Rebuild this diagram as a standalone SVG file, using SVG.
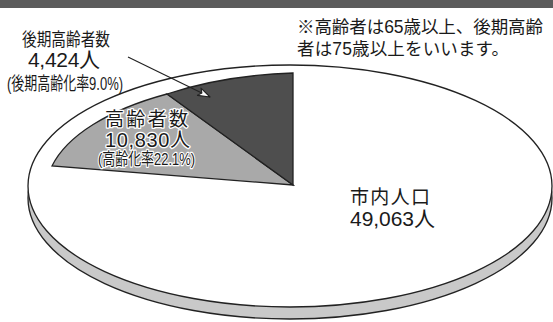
<svg xmlns="http://www.w3.org/2000/svg" width="553" height="322" viewBox="0 0 553 322">
<style>
.t{font-family:"Liberation Sans","Noto Sans CJK JP",sans-serif;fill:#1a1a1a}
.halo{stroke:#fff;stroke-width:2.5;paint-order:stroke;stroke-linejoin:round}
.edge{stroke:#222;stroke-width:1.3}
</style>
<defs>
<marker id="hollow" viewBox="0 0 14 10" refX="13" refY="5" markerWidth="14" markerHeight="10" markerUnits="userSpaceOnUse" orient="auto">
<path d="M1,1 L13,5 L1,9 L4,5 Z" fill="#fff" stroke="#222" stroke-width="1.1" stroke-linejoin="round"/>
</marker>
</defs>
<rect width="553" height="322" fill="#fff"/>
<rect x="0" y="0" width="553" height="8" fill="#5c5c5c"/>
<g id="pie">
<ellipse cx="290" cy="198" rx="262" ry="121" fill="#c9c9c9" class="edge"/>
<ellipse cx="290" cy="186" rx="262" ry="121" fill="#fff" class="edge"/>
<path id="slice-koureisha" d="M293,185 L52,166 A245,112 0 0 1 167,94 Z" fill="#a9a9a9" class="edge"/>
<path id="slice-kouki" d="M293,185 L167,94 A245,112 0 0 1 293,73 Z" fill="#4e4e4e" class="edge"/>
</g>
<g id="connectors">
<line x1="128" y1="57" x2="210" y2="97" stroke="#222" stroke-width="1.2" marker-end="url(#hollow)"/>
</g>
<g id="label-kouki">
<text class="t" x="22" y="45.5" font-size="18" textLength="88" lengthAdjust="spacingAndGlyphs">後期高齢者数</text>
<text class="t" x="28" y="67" font-size="21" textLength="72" lengthAdjust="spacing">4,424人</text>
<text class="t" x="7" y="89.5" font-size="18" textLength="116" lengthAdjust="spacingAndGlyphs">(後期高齢化率9.0%)</text>
</g>
<g id="label-koureisha">
<text class="t halo" x="105" y="125.5" font-size="19" textLength="83" lengthAdjust="spacing">高齢者数</text>
<text class="t halo" x="105" y="147" font-size="20" textLength="85" lengthAdjust="spacing">10,830人</text>
<text class="t halo" x="98" y="164.5" font-size="17" textLength="97" lengthAdjust="spacingAndGlyphs">(高齢化率22.1%)</text>
</g>
<g id="label-shinai">
<text class="t" x="350" y="203.5" font-size="19" textLength="80" lengthAdjust="spacing">市内人口</text>
<text class="t" x="350" y="225.5" font-size="21" textLength="85" lengthAdjust="spacing">49,063人</text>
</g>
<g id="note">
<text class="t" x="297" y="33" font-size="17.5" textLength="246" lengthAdjust="spacing">※高齢者は65歳以上、後期高齢</text>
<text class="t" x="297" y="55" font-size="17.5" textLength="212" lengthAdjust="spacing">者は75歳以上をいいます。</text>
</g>
</svg>
